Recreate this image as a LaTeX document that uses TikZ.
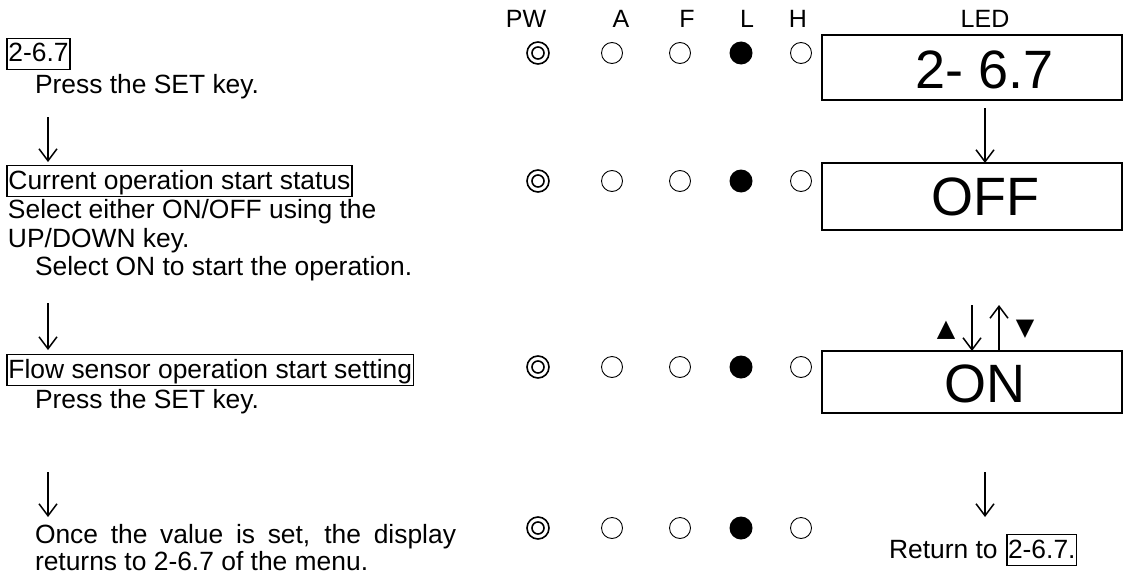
\documentclass[tikz,border=0pt]{standalone}
\usepackage{fontspec}
\setmainfont{Liberation Sans}
\newfontfamily\symfont{DejaVu Sans}
\usetikzlibrary{arrows.meta}
\begin{document}
\begin{tikzpicture}[x=1pt,y=-1pt,
  txt/.style={font=\fontsize{26.4}{28}\selectfont, inner sep=0pt, outer sep=0pt, anchor=base west},
  hdr/.style={font=\fontsize{25}{28}\selectfont, inner sep=0pt, anchor=base},
  lbl/.style={draw, line width=1.5pt, font=\fontsize{26.4}{28}\selectfont, inner xsep=1.5pt, inner ysep=2.5pt, outer sep=0pt, text height=21pt, text depth=5pt, anchor=base west},
  ledbox/.style={draw, line width=2pt, minimum width=300pt, inner sep=0pt, outer sep=0pt},
  ledtxt/.style={font=\fontsize{54}{60}\selectfont, inner sep=0pt, anchor=base},
  flow/.style={line width=1.5pt, -{Straight Barb[length=12pt,width=18pt]}},
  off/.style={draw, line width=0.9pt, circle, minimum size=21pt, inner sep=0pt},
  on/.style={fill, circle, minimum size=23pt, inner sep=0pt},
  pw/.style={draw, line width=1.6pt, circle, minimum size=22pt, inner sep=0pt, append after command={node[draw, line width=1.6pt, circle, minimum size=12pt, inner sep=0pt] at (\tikzlastnode.center) {}}},
  tri/.style={font=\symfont\fontsize{24}{24}\selectfont, inner sep=0pt}
]
\useasboundingbox (0,0) rectangle (1123,578);

% headers
\node[hdr] (hPW) at (526,28) {PW};
\node[hdr] (hA) at (621,28) {A};
\node[hdr] (hF) at (687,28) {F};
\node[hdr] (hL) at (747,28) {L};
\node[hdr] (hH) at (798,28) {H};
\node[hdr] (hLED) at (985,28) {LED};

% lamp rows
\foreach \r/\y in {1/53,2/181,3/367,4/528}{
  \node[pw] (pw\r) at (538,\y) {};
  \node[off] (a\r) at (612,\y) {};
  \node[off] (f\r) at (680,\y) {};
  \node[on] (l\r) at (741,\y) {};
  \node[off] (h\r) at (801,\y) {};
}

% left column
\node[lbl] (s1) at (7,62) {2-6.7};
\node[txt] (p1) at (35,93) {Press the SET key.};
\coordinate (c1a) at (48,117);
\coordinate (c1b) at (48,162);
\draw[flow] (c1a) -- (c1b);

\node[lbl] (s2) at (7,189) {Current operation start status};
\node[txt] (p2a) at (8,218) {Select either ON/OFF using the};
\node[txt] (p2b) at (8,247) {UP/DOWN key.};
\node[txt] (p2c) at (35,275) {Select ON to start the operation.};
\coordinate (c2a) at (48,303);
\coordinate (c2b) at (48,350);
\draw[flow] (c2a) -- (c2b);

\node[lbl] (s3) at (7,378) {Flow sensor operation start setting};
\node[txt] (p3) at (35,408) {Press the SET key.};
\coordinate (c3a) at (48,472);
\coordinate (c3b) at (48,517);
\draw[flow] (c3a) -- (c3b);

\node[txt] (p4a) at (35,543) {\makebox[421pt][s]{Once the value is set, the display}};
\node[txt] (p4b) at (35,570) {returns to 2-6.7 of the menu.};

% LED column
\node[ledbox, minimum height=65pt] (b1) at (972,67.5) {};
\node[ledtxt] (t1) at (985,88) {2- 6.7};
\node[ledbox, minimum height=67pt] (b2) at (972,196.5) {};
\node[ledtxt] (t2) at (985,215) {OFF};
\node[ledbox, minimum height=62pt] (b3) at (972,382) {};
\node[ledtxt] (t3) at (985,402) {ON};

\coordinate (d1) at (985,108);
\draw[flow] (d1) -- (d1 |- b2.north);

\coordinate (dn) at (972,305);
\coordinate (up) at (999,305);
\draw[flow] (dn) -- (dn |- b3.north);
\draw[flow] (up |- b3.north) -- (up);
\node[tri] (tri1) at (946,330) {▲};
\node[tri] (tri2) at (1025,329) {▼};

\coordinate (d4a) at (985,472);
\coordinate (d4b) at (985,517);
\draw[flow] (d4a) -- (d4b);

\node[txt] (r1) at (889,558) {Return to};
\node[lbl, inner xsep=1pt] (r2) at (1007,558) {2-6.7.};
\end{tikzpicture}
\end{document}
